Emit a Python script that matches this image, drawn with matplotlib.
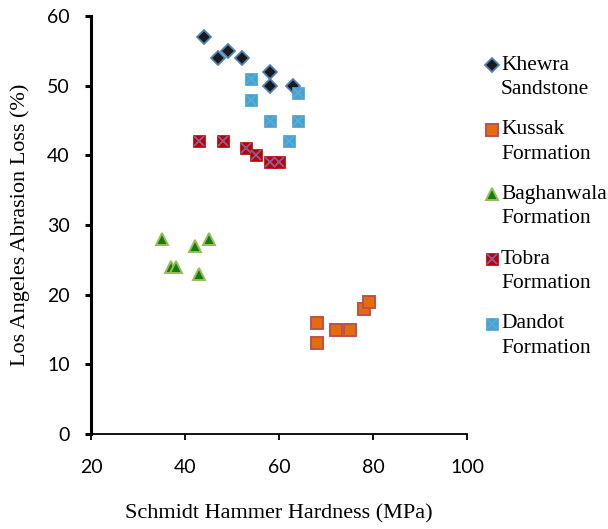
import matplotlib.pyplot as plt

# Schmidt hammer hardness (MPa) vs Los Angeles abrasion loss (%)
khewra_x = [44, 47, 49, 52, 58, 58, 63]
khewra_y = [57, 54, 55, 54, 52, 50, 50]

kussak_x = [68, 68, 72, 75, 78, 79]
kussak_y = [16, 13, 15, 15, 18, 19]

baghanwala_x = [35, 37, 38, 42, 43, 45]
baghanwala_y = [28, 24, 24, 27, 23, 28]

tobra_x = [43, 48, 53, 55, 58, 60]
tobra_y = [42, 42, 41, 40, 39, 39]

dandot_x = [54, 54, 58, 64, 64, 62]
dandot_y = [51, 48, 45, 49, 45, 42]

labels = [('Khewra', 'Sandstone'), ('Kussak', 'Formation'), ('Baghanwala', 'Formation'),
          ('Tobra', 'Formation'), ('Dandot', 'Formation')]

serif = 'Liberation Serif'
num_font = 'Lato'

W, H = 608, 529
fig = plt.figure(figsize=(W / 100, H / 100), dpi=100)
ax = fig.add_axes([91.3 / W, 1 - 434 / H, 376 / W, 418 / H])

# marker styles per series (list of layers, square + cross for Tobra/Dandot)
styles = [
    [dict(marker='D', markersize=7, markerfacecolor='#1a1a1a',
          markeredgecolor='#4F81BD', markeredgewidth=1.3)],
    [dict(marker='s', markersize=9, markerfacecolor='#E46C0A',
          markeredgecolor='#C0504D', markeredgewidth=1.4)],
    [dict(marker='^', markersize=9, markerfacecolor='#0F7F0F',
          markeredgecolor='#9BBB59', markeredgewidth=1.4)],
    [dict(marker='s', markersize=9, markerfacecolor='#C00000',
          markeredgecolor='#C00000', markeredgewidth=0.5),
     dict(marker='x', markersize=7.5, markeredgecolor='#8064A2', markeredgewidth=1.3)],
    [dict(marker='s', markersize=9, markerfacecolor='#4A9FD5',
          markeredgecolor='#4A9FD5', markeredgewidth=0.5),
     dict(marker='x', markersize=7.5, markeredgecolor='#56B0CE', markeredgewidth=1.2)],
]
series = [(khewra_x, khewra_y), (kussak_x, kussak_y), (baghanwala_x, baghanwala_y),
          (tobra_x, tobra_y), (dandot_x, dandot_y)]

for (xs, ys), layers in zip(series, styles):
    for st in layers:
        ax.plot(xs, ys, linestyle='none', **st)

ax.set_xlim(20, 100)
ax.set_ylim(0, 60)
ax.set_xticks([20, 40, 60, 80, 100])
ax.set_yticks([0, 10, 20, 30, 40, 50, 60])

ax.spines['top'].set_visible(False)
ax.spines['right'].set_visible(False)
ax.spines['left'].set_linewidth(2.2)
ax.spines['bottom'].set_linewidth(1.3)
ax.tick_params(axis='y', direction='out', length=4.5, width=2.2, pad=11, labelsize=14)
ax.tick_params(axis='x', direction='out', length=4.5, width=1.3, pad=13.5, labelsize=14)
for lab in ax.get_xticklabels() + ax.get_yticklabels():
    lab.set_fontfamily(num_font)

ax.set_xlabel('Schmidt Hammer Hardness (MPa)', fontfamily=serif, fontsize=16, labelpad=20)
ax.set_ylabel('Los Angeles Abrasion Loss (%)', fontfamily=serif, fontsize=16, labelpad=12)

# legend drawn by hand so the marker sits beside the first line of each label
for i, ((first, second), layers) in enumerate(zip(labels, styles)):
    yc = 1 - (65 + 64.7 * i) / H
    for st in layers:
        fig.add_artist(plt.Line2D([491.7 / W], [yc], linestyle='none',
                                  transform=fig.transFigure, **st))
    fig.text(501 / W, yc, first, fontfamily=serif, fontsize=15.5, va='center')
    fig.text(501 / W, yc - 24.5 / H, second, fontfamily=serif, fontsize=15.5, va='center')

fig.savefig('out.png', dpi=100)
